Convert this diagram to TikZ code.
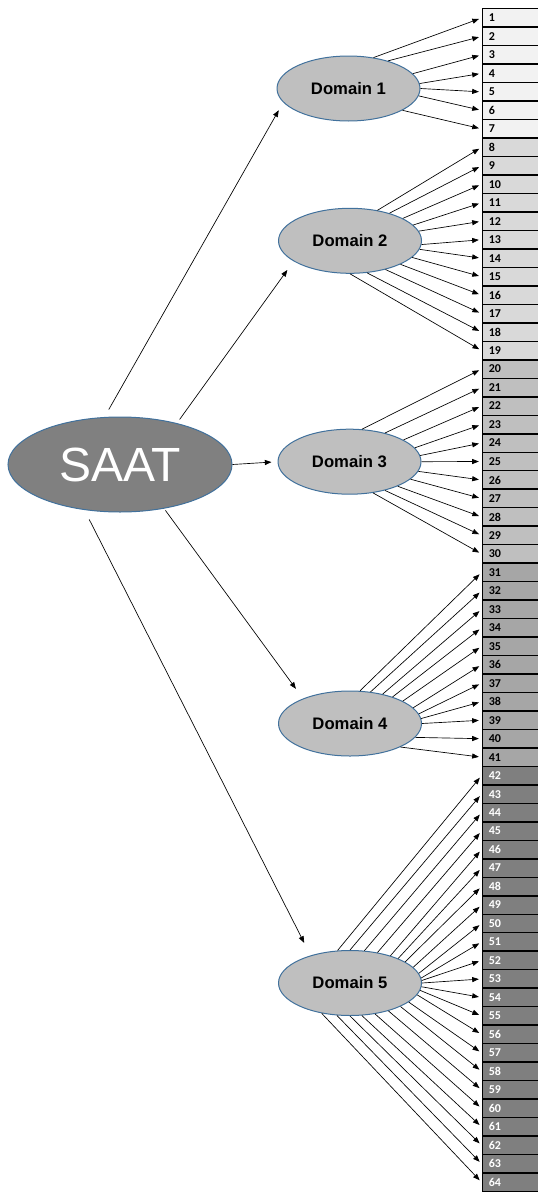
\documentclass[tikz,border=0pt]{standalone}
\usepackage{fontspec}
\setmainfont{Liberation Sans}
\newfontfamily\itemfont{Carlito}
\usetikzlibrary{shapes.geometric,arrows.meta}

\definecolor{ringblue}{RGB}{65,113,156}
\definecolor{rootgray}{RGB}{128,128,128}
\definecolor{domgray}{RGB}{191,191,191}
\definecolor{itemA}{RGB}{242,242,242}
\definecolor{itemB}{RGB}{217,217,217}
\definecolor{itemC}{RGB}{191,191,191}
\definecolor{itemD}{RGB}{166,166,166}
\definecolor{itemE}{RGB}{127,127,127}

\tikzset{every picture/.style={line width=0.75pt},
  rootnode/.style={ellipse, draw=ringblue, fill=rootgray, text=white, inner sep=0pt,
    minimum width=168pt, minimum height=71.25pt, font=\fontsize{36}{40}\selectfont},
  domnode/.style={ellipse, draw=ringblue, fill=domgray, inner sep=0pt,
    minimum width=107.25pt, minimum height=48.75pt, font=\bfseries\fontsize{12.5}{14}\selectfont},
  itembox/.style={rectangle, draw=black, line width=1.1pt, anchor=north west,
    minimum height=13.86pt, text width=38pt, inner xsep=5pt, inner ysep=0pt, align=left,
    font=\itemfont\bfseries\fontsize{9}{10}\selectfont},
  conn/.style={line width=0.5pt, -{Triangle[length=5pt,width=3.8pt]}},
}

\begin{document}
\begin{tikzpicture}[x=0.75pt,y=0.75pt,yscale=-1,xscale=1]
    \useasboundingbox (0,0) rectangle (538,1199);

    % Root
    \node[rootnode] (saat) at (120,464.5) {SAAT};
    % Domains
    \node[domnode] (d1) at (348.5,88.5) {Domain 1};
    \node[domnode] (d2) at (350,240.8) {Domain 2};
    \node[domnode] (d3) at (349.5,461.7) {Domain 3};
    \node[domnode] (d4) at (350,723.5) {Domain 4};
    \node[domnode] (d5) at (350,983) {Domain 5};

    % Item column, shaded per domain
    \foreach \first/\last/\shade/\ink in {1/7/itemA/black, 8/19/itemB/black, 20/30/itemC/black, 31/41/itemD/black, 42/64/itemE/white}
      \foreach \n in {\first,...,\last}
        \node[itembox, fill=\shade, text=\ink] (i\n) at (481.5,{8+(\n-1)*18.48}) {\n};

    % Connection root -> domains
    \draw[conn, shorten <=6.4pt, shorten >=6.75pt] (saat.108) -- (d1.192);
    \draw[conn, shorten <=3.4pt, shorten >=8pt] (saat.36) -- (d2.200);
    \draw[conn, shorten >=4.5pt] (saat.east) -- (d3.west);
    \draw[conn, shorten <=1.6pt, shorten >=9pt] (saat.315) -- (d4.152);
    \draw[conn, shorten <=7.9pt, shorten >=10.5pt] (saat.232) -- (d5.145);

    % Connection domains -> items
    \foreach \n/\a in {1/51,2/35,3/13,4/4,5/0,6/354,7/338}
      \draw[conn, shorten >=2pt] (d1.\a) -- (i\n.west);
    \foreach \n/\a in {8/48,9/35,10/23,11/14,12/8,13/357,14/353,15/345,16/335,17/321,18/298,19/270}
      \draw[conn, shorten >=2pt] (d2.\a) -- (i\n.west);
    \foreach \n/\a in {20/69,21/39,22/22,23/12,24/5,25/0,26/352,27/344,28/333,29/321,30/307}
      \draw[conn, shorten >=2pt] (d3.\a) -- (i\n.west);
    \foreach \n/\a in {31/73,32/57,33/42,34/32,35/23,36/14,37/8,38/4,39/0,40/348,41/335}
      \draw[conn, shorten >=2pt] (d4.\a) -- (i\n.west);
    \foreach \n/\a in {42/111,43/90,44/66,45/48,46/34,47/27,48/21,49/14,50/8,51/4,52/2,53/0,54/357,55/354,56/350,57/342,58/335,59/324,60/309,61/290,62/270,63/248,64/227}
      \draw[conn, shorten >=2pt] (d5.\a) -- (i\n.west);
\end{tikzpicture}
\end{document}
